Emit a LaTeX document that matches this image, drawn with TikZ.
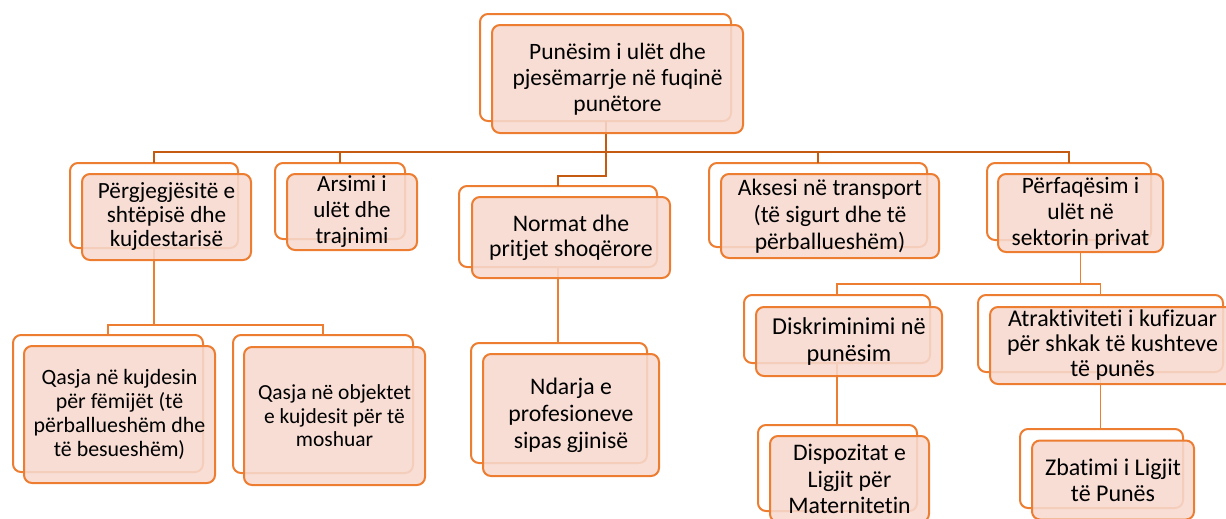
\documentclass[tikz,border=0pt]{standalone}
\usepackage{fontspec}
\setmainfont{Carlito}[Ligatures=NoCommon]
\definecolor{boxOrange}{HTML}{ED7D31}
\definecolor{lineBrown}{HTML}{C55A11}
\definecolor{boxPink}{HTML}{F7D9CF}
\pgfdeclarelayer{backboxes}
\pgfdeclarelayer{connectors}
\pgfsetlayers{backboxes,connectors,main}
\tikzset{
	box size/.style 2 args={minimum width=#1*0.75pt, minimum height=#2*0.75pt},
	fs/.style 2 args={font=\fontsize{#1pt}{#2pt}\selectfont},
	back box/.style={draw=boxOrange, line width=1.5pt, fill=white, rounded corners=6pt, inner sep=0pt, outer sep=0pt},
	front box/.style={draw=boxOrange, line width=1.5pt, fill=boxPink, fill opacity=0.88, text opacity=1, rounded corners=6pt, inner sep=0pt, outer sep=0pt, align=center, fs={17.6}{19.5}},
	link/.style={draw=boxOrange, line width=1.4pt},
	top link/.style={draw=lineBrown, line width=1.5pt}}

\begin{document}
\begin{tikzpicture}[x=0.75pt,y=0.75pt,yscale=-1,xscale=1]
	\useasboundingbox (0,0) rectangle (1226,518);

	%Back boxes
	\begin{pgfonlayer}{backboxes}
	\node [back box, box size={251}{107}] (topb) at (605.5,67.5) {};
	\node [back box, box size={168}{85}] (respb) at (154,205.5) {};
	\node [back box, box size={130}{76}] (educb) at (340,201) {};
	\node [back box, box size={198}{81}] (normsb) at (558,226.5) {};
	\node [back box, box size={218}{84}] (transpb) at (818,205) {};
	\node [back box, box size={164}{77}] (privb) at (1069,201.5) {};
	\node [back box, box size={190}{137}] (childb) at (108,403.5) {};
	\node [back box, box size={180}{138}] (elderb) at (323,404) {};
	\node [back box, box size={176}{120}] (segrb) at (559,403) {};
	\node [back box, box size={186}{68}] (discrb) at (837,329) {};
	\node [back box, box size={245}{77}] (attrb) at (1100.5,333.5) {};
	\node [back box, box size={159}{86}] (matb) at (837.5,468) {};
	\node [back box, box size={163}{79}] (lawb) at (1101.5,468.5) {};
	\end{pgfonlayer}

	% Text Node
	\node [front box, box size={251}{108}] (top) at (617.5,79) {Punësim i ulët dhe\\pjesëmarrje në fuqinë\\punëtore};
	% Text Node
	\node [front box, box size={169}{86}, fs={17.4}{18}] (resp) at (166.5,217) {Përgjegjësitë e\\shtëpisë dhe\\kujdestarisë};
	% Text Node
	\node [front box, box size={130}{76}, fs={17.3}{19.5}] (educ) at (352,212) {Arsimi i\\ulët dhe\\trajnimi};
	% Text Node
	\node [front box, box size={198}{81}, fs={17.8}{18.75}] (norms) at (571,237.5) {Normat dhe\\pritjet shoqërore};
	% Text Node
	\node [front box, box size={218}{84}, fs={17.7}{20.25}] (transp) at (830,216) {Aksesi në transport\\(të sigurt dhe të\\përballueshëm)};
	% Text Node
	\node [front box, box size={165}{78}] (priv) at (1080.5,213) {Përfaqësim i\\ulët në\\sektorin privat};
	% Text Node
	\node [front box, box size={191}{137}, fs={16.4}{18}] (child) at (119.5,414.5) {Qasja në kujdesin\\për fëmijët (të\\përballueshëm dhe\\të besueshëm)};
	% Text Node
	\node [front box, box size={181}{138}, fs={16.1}{17.6}] (elder) at (334.5,416) {Qasja në objektet\\e kujdesit për të\\moshuar};
	% Text Node
	\node [front box, box size={176}{122}, fs={17.8}{20.25}] (segr) at (571,415) {Ndarja e\\profesioneve\\sipas gjinisë};
	% Text Node
	\node [front box, box size={186}{69}, fs={18.2}{20}] (discr) at (849,341.5) {Diskriminimi në\\punësim};
	% Text Node
	\node [front box, box size={245}{77}, fs={18}{18.75}] (attr) at (1112.5,345.5) {Atraktiviteti i kufizuar\\për shkak të kushteve\\të punës};
	% Text Node
	\node [front box, box size={159}{86}, fs={17.8}{19.8}] (mat) at (849.5,479) {Dispozitat e\\Ligjit për\\Maternitetin};
	% Text Node
	\node [front box, box size={162}{79}, fs={18}{19.5}] (law) at (1113,480) {Zbatimi i Ligjit\\të Punës};

	%Connectors
	\begin{pgfonlayer}{connectors}
	\draw [top link] (topb.south) -- ++(0,55) -| (normsb.north);
	\draw [top link] (respb.north) -- ++(0,-11) -| (privb.north);
	\draw [top link] (educb.north) -- ++(0,-11);
	\draw [top link] (transpb.north) -- ++(0,-11);
	\draw [link] (respb.south) -- ++(0,77);
	\draw [link] (childb.north) -- ++(0,-10) -| (elderb.north);
	\draw [link] (normsb.south) -- (normsb.south |- segrb.north);
	\draw [link] (priv.south) -- ++(0,32);
	\draw [link] (discrb.north) -- ++(0,-11) -| (attrb.north);
	\draw [link] (discrb.south) -- (discrb.south |- matb.north);
	\draw [link] (attrb.south) -- (attrb.south |- lawb.north);
	\end{pgfonlayer}

\end{tikzpicture}
\end{document}
